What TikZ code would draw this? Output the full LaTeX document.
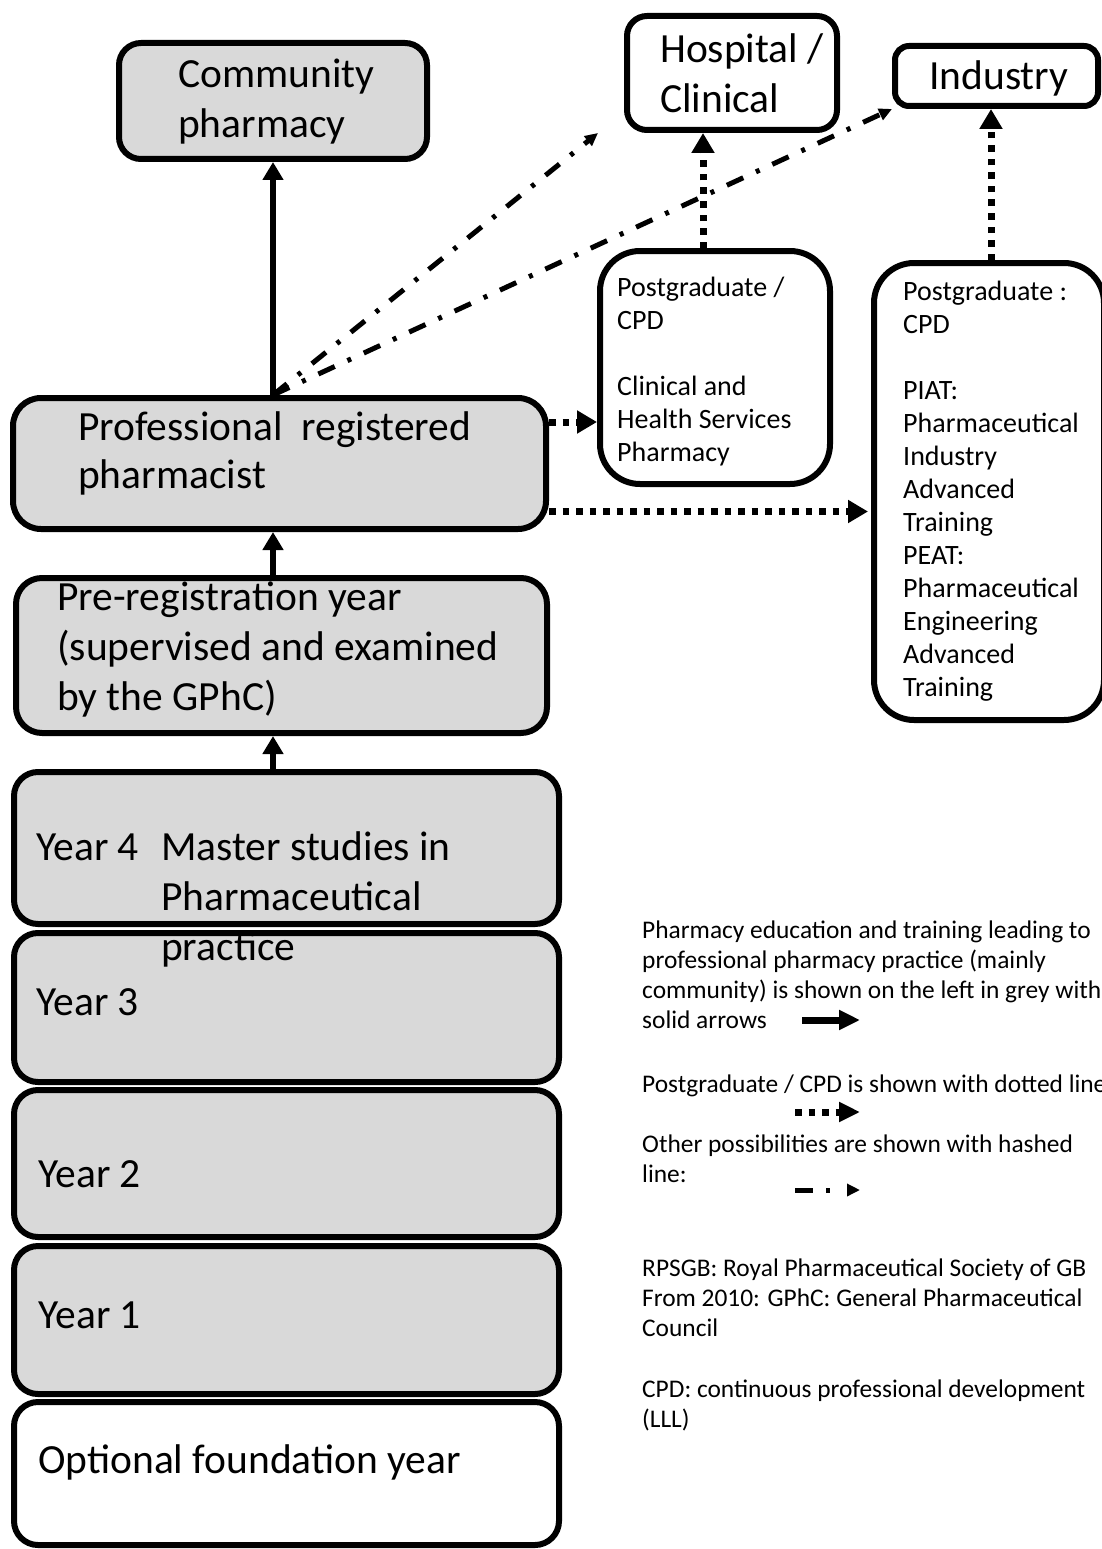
\documentclass[tikz,border=0pt]{standalone}
\usepackage{fontspec}
\setmainfont{Carlito}
\usetikzlibrary{arrows.meta}
\definecolor{boxgrey}{HTML}{D9D9D9}
\newcommand\myline[1]{\hbox{#1}}
\tikzset{
  box/.style={draw=black, line width=6pt, inner sep=0pt},
  greybox/.style={box, fill=boxgrey},
  whitebox/.style={box, fill=white},
  bigtxt/.style={anchor=base west, inner sep=0pt, font=\fontsize{41.5}{49.5}\selectfont},
  midtxt/.style={anchor=base west, inner sep=0pt, font=\fontsize{28}{33}\selectfont},
  legtxt/.style={anchor=base west, inner sep=0pt, font=\fontsize{25.4}{30}\selectfont},
  solidarrow/.style={line width=5.5pt, -{Triangle[length=18pt,width=20pt]}},
  dotarrow/.style={line width=7pt, dash pattern=on 6.5pt off 7pt, -{Triangle[length=20pt,width=22pt]}},
  dasharrow/.style={line width=5pt, dash pattern=on 18pt off 14pt on 4pt off 14pt, -{Triangle[length=13pt,width=12pt]}},
}
\begin{document}
\begin{tikzpicture}[x=1pt,y=-1pt]
\useasboundingbox[fill=white] (0,0) rectangle (1102,1549);

% ---- boxes ----
\node[whitebox, rounded corners=24pt, minimum width=545pt, minimum height=143pt] (opt) at (286.5,1473.5) {};
\node[greybox, rounded corners=24pt, minimum width=545pt, minimum height=148pt] (y1) at (286.5,1320) {};
\node[greybox, rounded corners=24pt, minimum width=545pt, minimum height=147pt] (y2) at (286.5,1163.5) {};
\node[greybox, rounded corners=24pt, minimum width=545pt, minimum height=149pt] (y3) at (286.5,1007.5) {};
\node[greybox, rounded corners=24pt, minimum width=545pt, minimum height=152pt] (y4) at (286.5,848) {};
\node[greybox, rounded corners=26pt, minimum width=531pt, minimum height=155pt] (prereg) at (281.5,655.5) {};
\node[greybox, rounded corners=28pt, minimum width=533pt, minimum height=131pt] (prof) at (279.5,463.5) {};
\node[greybox, rounded corners=22pt, minimum width=308pt, minimum height=116pt] (comm) at (273,101) {};
\node[whitebox, rounded corners=20pt, minimum width=210pt, minimum height=114pt] (hosp) at (732,73) {};
\node[whitebox, rounded corners=14pt, minimum width=203pt, minimum height=60pt] (ind) at (996.5,76) {};
\node[whitebox, rounded corners=40pt, minimum width=230pt, minimum height=233pt] (cpd1) at (715,367.5) {};
\node[whitebox, rounded corners=40pt, minimum width=230pt, minimum height=457pt] (cpd2) at (989,491.5) {};

% ---- connectors ----
\draw[solidarrow] (prof.north -| comm.south) -- (comm.south);
\draw[solidarrow] (prereg.north -| comm.south) -- (prof.south -| comm.south);
\draw[solidarrow] (y4.north -| comm.south) -- (prereg.south -| comm.south);

\coordinate (d1) at (0,422);
\coordinate (d2) at (0,511.5);
\draw[dotarrow] (prof.east |- d1) -- (cpd1.west |- d1);
\draw[dotarrow, shorten >=3pt] (prof.east |- d2) -- (cpd2.west |- d2);

\coordinate (vx1) at (703,0);
\coordinate (vx2) at (991,0);
\draw[dotarrow] (cpd1.north -| vx1) -- (hosp.south -| vx1);
\draw[dotarrow] (cpd2.north -| vx2) -- (ind.south -| vx2);

\coordinate (ddstart) at (prof.north -| comm.south);
\coordinate (ddend) at (598,133);
\draw[dasharrow] (ddstart) -- (ddend);
\draw[dasharrow] (ddstart) -- (ind.south west);

% ---- legend arrows ----
\coordinate (ls1) at (802,1020);
\coordinate (le1) at (860,1020);
\coordinate (ls2) at (795,1112);
\coordinate (le2) at (860,1112);
\coordinate (ls3) at (795,1190);
\coordinate (le3) at (860,1190);
\draw[solidarrow, line width=7pt, -{Triangle[length=21pt,width=19pt]}] (ls1) -- (le1);
\draw[dotarrow, -{Triangle[length=21pt,width=19pt]}] (ls2) -- (le2);
\draw[dasharrow, dash pattern=on 18pt off 13pt on 4pt off 17pt] (ls3) -- (le3);

% ---- texts ----
\node[bigtxt] (tcomm) at (178,88) {\vtop{\myline{Community}\myline{pharmacy}}};
\node[bigtxt, font=\fontsize{41.5}{50}\selectfont] (thosp) at (660,63) {\vtop{\myline{Hospital /}\myline{Clinical}}};
\node[bigtxt] (tind) at (929,90) {Industry};
\node[midtxt] (tcpd1) at (617,296) {\vtop{\myline{Postgraduate /}\myline{CPD}\myline{}\myline{Clinical and}\myline{Health Services}\myline{Pharmacy}}};
\node[midtxt] (tcpd2) at (903,300) {\vtop{\myline{Postgraduate :}\myline{CPD}\myline{}\myline{PIAT:}\myline{Pharmaceutical}\myline{Industry}\myline{Advanced}\myline{Training}\myline{PEAT:}\myline{Pharmaceutical}\myline{Engineering}\myline{Advanced}\myline{Training}}};
\node[bigtxt, font=\fontsize{41.5}{48.5}\selectfont] (tprof) at (78,440) {\vtop{\myline{Professional\ \ registered}\myline{pharmacist}}};
\node[bigtxt, font=\fontsize{41.5}{50}\selectfont] (tpre) at (57,610) {\vtop{\myline{Pre-registration year}\myline{(supervised and examined}\myline{by the GPhC)}}};
\node[bigtxt] (ty4) at (36,860) {Year 4};
\node[bigtxt, font=\fontsize{41.5}{50}\selectfont] (tmaster) at (161,860) {\vtop{\myline{Master studies in}\myline{Pharmaceutical}\myline{practice}}};
\node[bigtxt] (ty3) at (36,1015) {Year 3};
\node[bigtxt] (ty2) at (38,1187) {Year 2};
\node[bigtxt] (ty1) at (38,1328) {Year 1};
\node[bigtxt] (topt) at (38,1473) {Optional foundation year};

\node[legtxt] (leg1) at (642,938) {\vtop{\myline{Pharmacy education and training leading to}\myline{professional pharmacy practice (mainly}\myline{community) is shown on the left in grey with}\myline{solid arrows}}};
\node[legtxt] (leg2) at (642,1092) {Postgraduate / CPD is shown with dotted line};
\node[legtxt] (leg3) at (642,1152) {\vtop{\myline{Other possibilities are shown with hashed}\myline{line:}}};
\node[legtxt] (leg4) at (642,1276) {\vtop{\myline{RPSGB: Royal Pharmaceutical Society of GB}\myline{From 2010: GPhC: General Pharmaceutical}\myline{Council}}};
\node[legtxt] (leg5) at (642,1397) {\vtop{\myline{CPD: continuous professional development}\myline{(LLL)}}};
\end{tikzpicture}
\end{document}
